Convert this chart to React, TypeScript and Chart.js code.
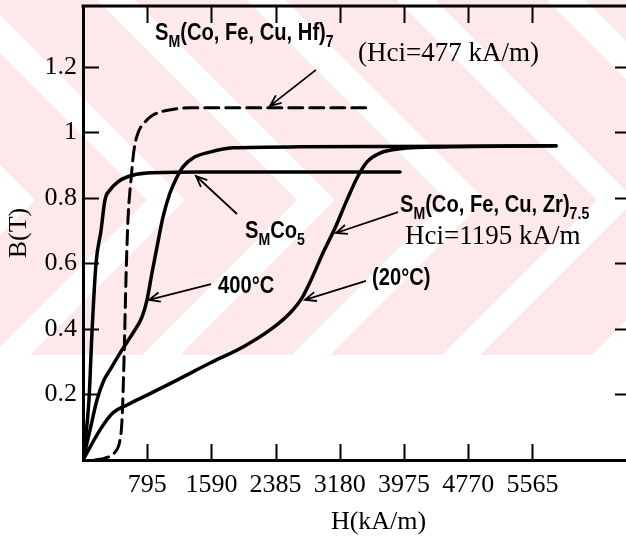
import React, { useEffect, useRef } from 'react';
import { Chart, registerables } from 'chart.js';

Chart.register(...registerables);

// ---- data (H in kA/m, B in T) ----
const xTickValues = [795, 1590, 2385, 3180, 3975, 4770, 5565];
const yTickValues = [0.2, 0.4, 0.6, 0.8, 1.0, 1.2];

const smco5H = [0, 74, 111, 161, 223, 272, 334, 433, 545, 793, 1449, 3925];
const smco5B = [0, 0.183, 0.388, 0.6, 0.7, 0.794, 0.824, 0.849, 0.864, 0.876, 0.879, 0.879];

const hfH = [149, 272, 396, 458, 483, 508, 532, 557, 594, 632, 681, 768, 867, 1015, 1325, 3554];
const hfB = [0, 0.006, 0.024, 0.061, 0.122, 0.305, 0.55, 0.733, 0.855, 0.947, 0.998, 1.032, 1.053, 1.066, 1.075, 1.075];

const t400H = [0, 87, 173, 260, 334, 483, 619, 731, 793, 854, 916, 991, 1077, 1164, 1238, 1362, 1573, 1857, 2687, 5857];
const t400B = [0, 0.092, 0.183, 0.244, 0.275, 0.336, 0.388, 0.437, 0.489, 0.571, 0.65, 0.742, 0.815, 0.864, 0.895, 0.922, 0.94, 0.953, 0.956, 0.959];

const t20H = [0, 211, 371, 545, 793, 1164, 1573, 1981, 2316, 2564, 2712, 2836, 2960, 3121, 3269, 3393, 3517, 3678, 3926, 4545, 5857];
const t20B = [0, 0.092, 0.144, 0.168, 0.198, 0.244, 0.296, 0.345, 0.397, 0.449, 0.495, 0.556, 0.626, 0.708, 0.794, 0.861, 0.91, 0.937, 0.95, 0.956, 0.959];

// annotation texts (anchored in data units)
type Part = { t: string; sub?: boolean };
const annotationTexts: { parts: Part[]; h: number; b: number; serif: boolean }[] = [
  { parts: [{ t: 'S' }, { t: 'M', sub: true }, { t: '(Co, Fe, Cu, Hf)' }, { t: '7', sub: true }], h: 892, b: 1.282, serif: false },
  { parts: [{ t: '(Hci=477 kA/m)' }], h: 3405, b: 1.218, serif: true },
  { parts: [{ t: 'S' }, { t: 'M', sub: true }, { t: 'Co' }, { t: '5', sub: true }], h: 2006, b: 0.678, serif: false },
  { parts: [{ t: 'S' }, { t: 'M', sub: true }, { t: '(Co, Fe, Cu, Zr)' }, { t: '7.5', sub: true }], h: 3925, b: 0.757, serif: false },
  { parts: [{ t: 'Hci=1195 kA/m' }], h: 3987, b: 0.66, serif: true },
  { parts: [{ t: '400°C' }], h: 1672, b: 0.51, serif: false },
  { parts: [{ t: '(20°C)' }], h: 3579, b: 0.535, serif: false },
];
const arrowFromH = [2885, 1907, 3901, 1585, 3504];
const arrowFromB = [1.191, 0.751, 0.757, 0.537, 0.547];
const arrowToH = [2316, 1399, 3133, 817, 2749];
const arrowToB = [1.081, 0.867, 0.693, 0.489, 0.489];

const SANS = '"Liberation Sans", Arial, sans-serif';
const SERIF = '"Liberation Serif", "Times New Roman", serif';

const toPts = (hs: number[], bs: number[]) => hs.map((h, i) => ({ x: h, y: bs[i] }));

const watermark = {
  id: 'watermark',
  beforeDraw(chart: any) {
    const { ctx, width } = chart;
    const H = 355;
    ctx.save();
    ctx.fillStyle = '#ffffff';
    ctx.fillRect(0, 0, width, chart.height);
    ctx.beginPath();
    ctx.rect(0, 0, width, H);
    ctx.clip();
    ctx.fillStyle = '#fde8ec';
    const P = 150, W = 112, tip = 200;
    for (let c = 35 - 450; c < width + 450; c += P) {
      ctx.beginPath();
      ctx.moveTo(c - tip, 0);
      ctx.lineTo(c + W - tip, 0);
      ctx.lineTo(c + W, tip);
      ctx.lineTo(c + W - (H - tip), H);
      ctx.lineTo(c - (H - tip), H);
      ctx.lineTo(c, tip);
      ctx.closePath();
      ctx.fill();
    }
    ctx.restore();
  },
};

function drawRich(ctx: CanvasRenderingContext2D, parts: Part[], x: number, y: number, size: number, family: string, weight: string, sx: number) {
  ctx.save();
  ctx.translate(x, y);
  ctx.scale(sx, 1);
  let cx = 0;
  for (const p of parts) {
    const s = p.sub ? size * 0.7 : size;
    ctx.font = `${weight} ${s}px ${family}`;
    ctx.fillText(p.t, cx, p.sub ? size * 0.3 : 0);
    cx += ctx.measureText(p.t).width;
  }
  ctx.restore();
}

const frame = {
  id: 'frame',
  afterDraw(chart: any) {
    const { ctx, chartArea } = chart;
    const { left, right, top, bottom } = chartArea;
    const xs = chart.scales.x;
    const ys = chart.scales.y;
    ctx.save();
    ctx.strokeStyle = '#000';
    ctx.lineWidth = 3;
    ctx.beginPath();
    ctx.moveTo(left - 1.5, top);
    ctx.lineTo(right, top);
    ctx.stroke();
    ctx.lineWidth = 2;
    ctx.beginPath();
    for (const v of xTickValues) {
      const px = Math.round(xs.getPixelForValue(v)) + 0.5;
      ctx.moveTo(px, bottom);
      ctx.lineTo(px, bottom - 16);
      ctx.moveTo(px, top);
      ctx.lineTo(px, top + 17);
    }
    for (const v of yTickValues) {
      const py = Math.round(ys.getPixelForValue(v)) + 0.5;
      ctx.moveTo(left, py);
      ctx.lineTo(left + 16, py);
      ctx.moveTo(right, py);
      ctx.lineTo(right - 11, py);
    }
    ctx.stroke();

    // annotations
    ctx.fillStyle = '#000';
    ctx.textBaseline = 'alphabetic';
    ctx.textAlign = 'left';
    for (const a of annotationTexts) {
      const px = xs.getPixelForValue(a.h);
      const py = ys.getPixelForValue(a.b);
      if (a.serif) drawRich(ctx, a.parts, px, py, 27, SERIF, 'normal', 1);
      else drawRich(ctx, a.parts, px, py, 24, SANS, 'bold', 0.84);
    }
    // arrows
    ctx.lineWidth = 1.8;
    for (let i = 0; i < arrowFromH.length; i++) {
      const x1 = xs.getPixelForValue(arrowFromH[i]);
      const y1 = ys.getPixelForValue(arrowFromB[i]);
      const x2 = xs.getPixelForValue(arrowToH[i]);
      const y2 = ys.getPixelForValue(arrowToB[i]);
      const ang = Math.atan2(y2 - y1, x2 - x1);
      ctx.beginPath();
      ctx.moveTo(x1, y1);
      ctx.lineTo(x2, y2);
      const L = 12, s = 0.4;
      ctx.moveTo(x2 - L * Math.cos(ang - s), y2 - L * Math.sin(ang - s));
      ctx.lineTo(x2, y2);
      ctx.lineTo(x2 - L * Math.cos(ang + s), y2 - L * Math.sin(ang + s));
      ctx.stroke();
    }
    // x axis title
    ctx.font = `26px ${SERIF}`;
    ctx.textAlign = 'center';
    ctx.textBaseline = 'middle';
    ctx.fillText('H(kA/m)', xs.getPixelForValue(3660), bottom + 62);
    ctx.restore();
  },
};

export default function App() {
  const ref = useRef<HTMLCanvasElement>(null);
  useEffect(() => {
    const canvas = ref.current!;
    const lineDs = (label: string, hs: number[], bs: number[], dashed = false) => ({
      label,
      data: toPts(hs, bs),
      borderColor: '#000',
      borderWidth: dashed ? 3 : 3.5,
      borderDash: dashed ? [14, 7] : [],
      pointRadius: 0,
      fill: false,
      cubicInterpolationMode: 'monotone' as const,
      borderCapStyle: 'round' as const,
    });
    const chart = new Chart(canvas, {
      type: 'line',
      data: {
        datasets: [
          lineDs('SmCo5', smco5H, smco5B),
          lineDs('Sm(Co,Fe,Cu,Hf)7', hfH, hfB, true),
          lineDs('400°C', t400H, t400B),
          lineDs('20°C', t20H, t20B),
        ],
      },
      options: {
        responsive: false,
        animation: false,
        events: [],
        layout: { padding: { top: 6, left: 0, right: 0, bottom: 0 } },
        plugins: { legend: { display: false }, tooltip: { enabled: false } },
        scales: {
          x: {
            type: 'linear',
            min: 0,
            max: 6724,
            grid: { display: false, drawTicks: false },
            border: { display: true, color: '#000', width: 3 },
            afterBuildTicks: (s: any) => { s.ticks = xTickValues.map((v) => ({ value: v })); },
            afterFit: (s: any) => { s.height = 82; s.paddingLeft = 0; s.paddingRight = 0; },
            ticks: {
              color: '#000',
              font: { family: SERIF, size: 26 },
              padding: 10,
              maxRotation: 0,
              autoSkip: false,
              callback: (v: any) => String(v),
            },
          },
          y: {
            type: 'linear',
            min: 0,
            max: 1.386,
            grid: { display: false, drawTicks: false },
            border: { display: true, color: '#000', width: 3 },
            afterBuildTicks: (s: any) => { s.ticks = yTickValues.map((v) => ({ value: v })); },
            afterFit: (s: any) => { s.width = 83; s.paddingTop = 0; s.paddingBottom = 0; },
            title: { display: true, text: 'B(T)', color: '#000', font: { family: SERIF, size: 26 }, padding: { top: 4, bottom: 0 } },
            ticks: {
              color: '#000',
              font: { family: SERIF, size: 26 },
              padding: 6,
              autoSkip: false,
              callback: (v: any) => String(v),
            },
          },
        },
      },
      plugins: [watermark, frame],
    });
    return () => chart.destroy();
  }, []);
  return (
    <canvas
      ref={ref}
      width={626}
      height={542}
      style={{ position: 'absolute', left: 0, top: 0, display: 'block' }}
    />
  );
}
